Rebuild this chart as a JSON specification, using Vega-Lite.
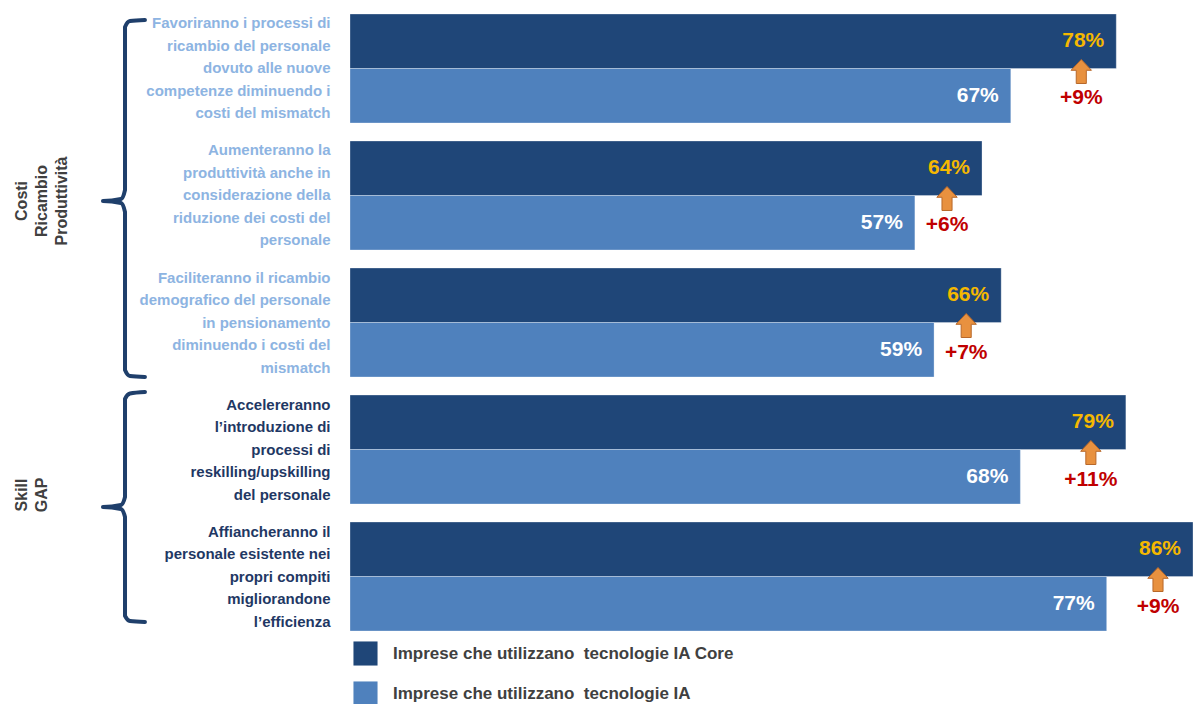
{
  "$schema": "https://vega.github.io/schema/vega-lite/v6.json",
  "autosize": {"type": "none"},
  "padding": {"left": 350, "top": 14, "right": 0, "bottom": 73},
  "width": 843,
  "height": 617,
  "background": "#ffffff",
  "config": {"view": {"stroke": null}},
  "datasets": {
    "bars": [
      {"item": "Favoriranno i processi di|ricambio del personale|dovuto alle nuove|competenze diminuendo i|costi del mismatch", "series": "Core", "value": 0.78},
      {"item": "Favoriranno i processi di|ricambio del personale|dovuto alle nuove|competenze diminuendo i|costi del mismatch", "series": "IA", "value": 0.67},
      {"item": "Aumenteranno la|produttività anche in|considerazione della|riduzione dei costi del|personale", "series": "Core", "value": 0.64},
      {"item": "Aumenteranno la|produttività anche in|considerazione della|riduzione dei costi del|personale", "series": "IA", "value": 0.57},
      {"item": "Faciliteranno il ricambio|demografico del personale|in pensionamento|diminuendo i costi del|mismatch", "series": "Core", "value": 0.66},
      {"item": "Faciliteranno il ricambio|demografico del personale|in pensionamento|diminuendo i costi del|mismatch", "series": "IA", "value": 0.59},
      {"item": "Accelereranno|l’introduzione di|processi di|reskilling/upskilling|del personale", "series": "Core", "value": 0.79},
      {"item": "Accelereranno|l’introduzione di|processi di|reskilling/upskilling|del personale", "series": "IA", "value": 0.68},
      {"item": "Affiancheranno il|personale esistente nei|propri compiti|migliorandone|l’efficienza", "series": "Core", "value": 0.86},
      {"item": "Affiancheranno il|personale esistente nei|propri compiti|migliorandone|l’efficienza", "series": "IA", "value": 0.77}
    ],
    "diffs": [
      {"item": "Favoriranno i processi di|ricambio del personale|dovuto alle nuove|competenze diminuendo i|costi del mismatch", "core": 0.78, "diff": 0.09},
      {"item": "Aumenteranno la|produttività anche in|considerazione della|riduzione dei costi del|personale", "core": 0.64, "diff": 0.06},
      {"item": "Faciliteranno il ricambio|demografico del personale|in pensionamento|diminuendo i costi del|mismatch", "core": 0.66, "diff": 0.07},
      {"item": "Accelereranno|l’introduzione di|processi di|reskilling/upskilling|del personale", "core": 0.79, "diff": 0.11},
      {"item": "Affiancheranno il|personale esistente nei|propri compiti|migliorandone|l’efficienza", "core": 0.86, "diff": 0.09}
    ],
    "brace": [
      {"g": "a", "o": 1, "bx": -0.2328, "by": 0.047},
      {"g": "a", "o": 2, "bx": -0.2484, "by": 0.055},
      {"g": "a", "o": 3, "bx": -0.2536, "by": 0.102},
      {"g": "a", "o": 4, "bx": -0.2536, "by": 1.386},
      {"g": "a", "o": 5, "bx": -0.2578, "by": 1.457},
      {"g": "a", "o": 6, "bx": -0.2766, "by": 1.472},
      {"g": "a", "o": 7, "bx": -0.2578, "by": 1.488},
      {"g": "a", "o": 8, "bx": -0.2536, "by": 1.559},
      {"g": "a", "o": 9, "bx": -0.2536, "by": 2.803},
      {"g": "a", "o": 10, "bx": -0.2484, "by": 2.850},
      {"g": "a", "o": 11, "bx": -0.2328, "by": 2.858},
      {"g": "b", "o": 1, "bx": -0.2328, "by": 2.976},
      {"g": "b", "o": 2, "bx": -0.2484, "by": 2.988},
      {"g": "b", "o": 3, "bx": -0.2536, "by": 3.031},
      {"g": "b", "o": 4, "bx": -0.2536, "by": 3.803},
      {"g": "b", "o": 5, "bx": -0.2578, "by": 3.866},
      {"g": "b", "o": 6, "bx": -0.2766, "by": 3.882},
      {"g": "b", "o": 7, "bx": -0.2578, "by": 3.898},
      {"g": "b", "o": 8, "bx": -0.2536, "by": 3.961},
      {"g": "b", "o": 9, "bx": -0.2536, "by": 4.740},
      {"g": "b", "o": 10, "bx": -0.2484, "by": 4.780},
      {"g": "b", "o": 11, "bx": -0.2328, "by": 4.787}
    ],
    "groups": [
      {"label": "Costi|Ricambio|Produttività", "gx": -0.361, "gy": 1.472},
      {"label": "Skill|GAP", "gx": -0.361, "gy": 3.787}
    ]
  },
  "resolve": {"scale": {"y": "independent"}},
  "layer": [
    {
      "layer": [
        {
          "data": {"name": "bars"},
          "encoding": {
            "y": {
              "field": "item", "type": "nominal", "sort": null,
              "scale": {"type": "band", "paddingInner": 0.142, "paddingOuter": 0},
              "axis": {
                "title": null, "ticks": false, "domain": false, "grid": false,
                "labelPadding": 20, "labelLimit": 0, "labelOffset": -45,
                "labelFont": "Liberation Sans", "labelFontSize": 15, "labelFontWeight": "bold", "labelLineHeight": 22.5,
                "labelExpr": "split(datum.label, '|')",
                "labelColor": {"condition": {"test": "test(/^(Acc|Aff)/, datum.value)", "value": "#1F3864"}, "value": "#8DB4E2"}
              }
            },
            "yOffset": {"field": "series", "type": "nominal", "sort": null, "scale": {"paddingInner": 0, "paddingOuter": 0}},
            "x": {"field": "value", "type": "quantitative", "scale": {"domain": [-0.019, 0.86], "nice": false, "zero": false}, "axis": null}
          },
          "layer": [
            {
              "mark": {"type": "bar", "stroke": "#ffffff", "strokeWidth": 0.6, "strokeOpacity": 0.5},
              "encoding": {
                "x2": {"datum": -0.019},
                "color": {
                  "field": "series", "type": "nominal", "sort": null,
                  "scale": {"domain": ["Core", "IA"], "range": ["#1F4678", "#4F81BD"]},
                  "legend": {
                    "title": null, "orient": "none", "legendX": 3, "legendY": 627, "padding": 0,
                    "symbolType": "square", "symbolSize": 580, "symbolStrokeWidth": 0,
                    "rowPadding": 15, "labelOffset": 15,
                    "labelFont": "Liberation Sans", "labelFontSize": 17, "labelFontWeight": "bold", "labelColor": "#404040",
                    "labelLimit": 0,
                    "labelExpr": "datum.label === 'Core' ? 'Imprese che utilizzano\u00a0 tecnologie IA Core' : '\u00a0Imprese che utilizzano\u00a0 tecnologie IA'"
                  }
                }
              }
            },
            {
              "mark": {"type": "text", "align": "right", "baseline": "middle", "dx": -12, "font": "Liberation Sans", "fontWeight": "bold", "fontSize": 21},
              "encoding": {
                "text": {"field": "value", "format": ".0%"},
                "color": {"condition": {"test": "datum.series === 'Core'", "value": "#F5B800"}, "value": "#ffffff"}
              }
            }
          ]
        },
        {
          "data": {"name": "diffs"},
          "encoding": {
            "y": {"field": "item", "type": "nominal", "sort": null},
            "x": {"field": "core", "type": "quantitative", "scale": {"domain": [-0.019, 0.86], "nice": false, "zero": false}, "axis": null}
          },
          "layer": [
            {
              "mark": {"type": "point", "shape": "M0,-1L0.85,-0.1L0.42,-0.1L0.42,1L-0.42,1L-0.42,-0.1L-0.85,-0.1Z", "size": 576, "filled": true, "fill": "#E8913F", "stroke": "#B8682A", "strokeWidth": 1, "opacity": 1, "xOffset": -35, "yOffset": 3}
            },
            {
              "mark": {"type": "text", "align": "center", "baseline": "middle", "dx": -35, "dy": 30, "font": "Liberation Sans", "fontWeight": "bold", "fontSize": 21, "color": "#C00000"},
              "encoding": {"text": {"field": "diff", "format": "+.0%"}}
            }
          ]
        }
      ]
    },
    {
      "layer": [
        {
          "data": {"name": "brace"},
          "mark": {"type": "line", "stroke": "#1F3F6B", "strokeWidth": 4, "strokeCap": "round", "strokeJoin": "round", "interpolate": "monotone", "clip": false},
          "encoding": {
            "x": {"field": "bx", "type": "quantitative", "scale": {"domain": [-0.019, 0.86], "nice": false, "zero": false}, "axis": null},
            "y": {"field": "by", "type": "quantitative", "scale": {"domain": [0, 4.8583], "reverse": true, "nice": false, "zero": false}, "axis": null},
            "detail": {"field": "g", "type": "nominal"},
            "order": {"field": "o", "type": "quantitative"}
          }
        },
        {
          "data": {"name": "groups"},
          "transform": [{"calculate": "split(datum.label, '|')", "as": "lines"}],
          "mark": {"type": "text", "angle": 270, "align": "center", "baseline": "middle", "lineHeight": 20, "font": "Liberation Sans", "fontWeight": "bold", "fontSize": 16, "color": "#404040", "clip": false},
          "encoding": {
            "x": {"field": "gx", "type": "quantitative", "scale": {"domain": [-0.019, 0.86], "nice": false, "zero": false}, "axis": null},
            "y": {"field": "gy", "type": "quantitative", "scale": {"domain": [0, 4.8583], "reverse": true, "nice": false, "zero": false}, "axis": null},
            "text": {"field": "lines"}
          }
        }
      ]
    }
  ]
}
